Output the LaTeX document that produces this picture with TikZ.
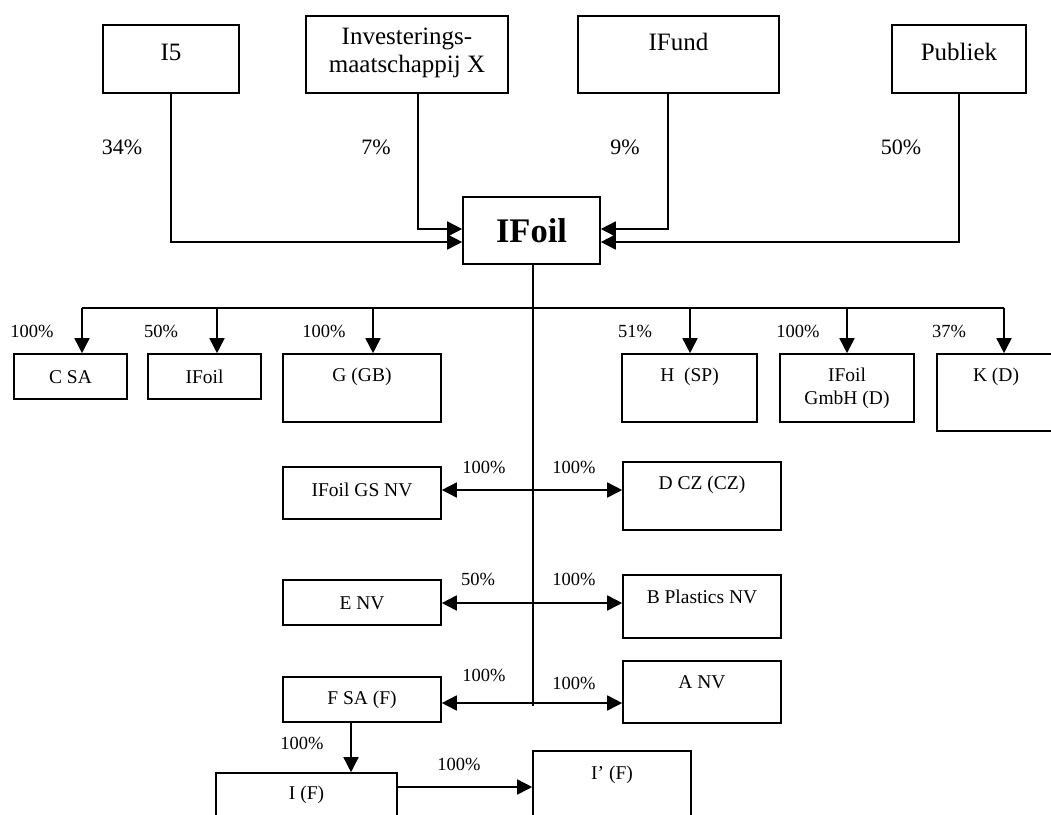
\documentclass[tikz,border=0pt]{standalone}
\usepackage{fontspec}
\setmainfont{Liberation Serif}
\usetikzlibrary{arrows.meta,calc}
\begin{document}
\begin{tikzpicture}[x=1pt,y=-1pt,
  box/.style={draw,line width=1.6pt,inner sep=0pt},
  btxt/.style={inner sep=0pt,align=center,font=\fontsize{19.5}{23}\selectfont},
  ttxt/.style={inner sep=0pt,align=center,font=\fontsize{25}{28}\selectfont},
  pct/.style={inner sep=0pt,font=\fontsize{18.5}{20}\selectfont},
  tpct/.style={inner sep=0pt,font=\fontsize{22}{24}\selectfont},
  conn/.style={line width=1.6pt},
  arr/.style={line width=1.6pt,-{Triangle[length=15pt,width=15pt]}},
  darr/.style={line width=1.6pt,{Triangle[length=15pt,width=15pt]}-{Triangle[length=15pt,width=15pt]}}]
\useasboundingbox (0,0) rectangle (1051,814);
\clip (0,0) rectangle (1051,814);
% top boxes
\node[box,minimum width=136pt,minimum height=68pt] (i5) at (171,59) {};
\node[ttxt] (i5t) at (171,52) {I5};
\node[box,minimum width=202pt,minimum height=77pt] (inv) at (407,54.5) {};
\node[ttxt] (invt) at (407,53) {Investerings-\\maatschappij X};
\node[box,minimum width=201pt,minimum height=77pt] (ifund) at (678.5,54.5) {};
\node[ttxt] (ifundt) at (678.5,42) {IFund};
\node[box,minimum width=134pt,minimum height=68pt] (publ) at (959,59) {};
\node[ttxt] (publt) at (959,52) {Publiek};
% main
\node[box,minimum width=137pt,minimum height=67pt,font=\fontsize{34.5}{36}\selectfont\bfseries] (ifoil) at (531.5,230.5) {IFoil};
% top percentages
\node[tpct] (p34) at (122,147) {34\%};
\node[tpct] (p7) at (376,147) {7\%};
\node[tpct] (p9) at (625,147) {9\%};
\node[tpct] (p50) at (901,147) {50\%};
% top arrows
\draw[arr] (i5.south) |- ($(ifoil.west)+(0,11.5)$);
\draw[arr] ($(inv.south)+(11,0)$) |- ($(ifoil.west)+(0,-1.5)$);
\draw[arr] ($(ifund.south)+(-10.5,0)$) |- ($(ifoil.east)+(0,-1.5)$);
\draw[arr] (publ.south) |- ($(ifoil.east)+(0,11.5)$);
% subsidiaries row
\node[box,minimum width=113pt,minimum height=45pt] (csa) at (70.5,376.5) {};
\node[btxt] (csat) at (70.5,377) {C SA};
\node[box,minimum width=113pt,minimum height=45pt] (if2) at (204.5,376.5) {};
\node[btxt] (if2t) at (204.5,377) {IFoil};
\node[box,minimum width=158pt,minimum height=68pt] (g) at (362,388) {};
\node[btxt] (gt) at (362,377) {G (GB)};
\node[box,minimum width=135pt,minimum height=68pt] (h) at (689.5,388) {};
\node[btxt] (ht) at (689.5,377) {H\ \ (SP)};
\node[box,minimum width=134pt,minimum height=68pt] (gmbh) at (847,388) {};
\node[btxt] (gmbht) at (847,388.5) {IFoil\\GmbH (D)};
\node[box,minimum width=118pt,minimum height=77pt] (k) at (996,392.5) {};
\node[btxt] (kt) at (996,377) {K (D)};
% trunk and bus
\draw[conn] ($(ifoil.south)+(1.5,0)$) -- ($(ifoil.south)+(1.5,441)$);
\draw[conn] ($(csa.north)+(11.5,-45)$) -- ($(k.north)+(8,-45)$);
\draw[arr] ($(csa.north)+(11.5,-45)$) -- ($(csa.north)+(11.5,0)$);
\draw[arr] ($(if2.north)+(12.5,-45)$) -- ($(if2.north)+(12.5,0)$);
\draw[arr] ($(g.north)+(11,-45)$) -- ($(g.north)+(11,0)$);
\draw[arr] ($(h.north)+(0.5,-45)$) -- ($(h.north)+(0.5,0)$);
\draw[arr] ($(gmbh.north)+(0,-45)$) -- (gmbh.north);
\draw[arr] ($(k.north)+(8,-45)$) -- ($(k.north)+(8,0)$);
\node[pct] (l1) at (32,331) {100\%};
\node[pct] (l2) at (161,331) {50\%};
\node[pct] (l3) at (324,331) {100\%};
\node[pct] (l4) at (635,331) {51\%};
\node[pct] (l5) at (798,331) {100\%};
\node[pct] (l6) at (949,331) {37\%};
% middle rows
\node[box,minimum width=158pt,minimum height=52pt] (gs) at (362,493) {};
\node[btxt] (gst) at (362,490) {IFoil GS NV};
\node[box,minimum width=158pt,minimum height=68pt] (dcz) at (702,496) {};
\node[btxt] (dczt) at (702,485) {D CZ (CZ)};
\node[box,minimum width=158pt,minimum height=45pt] (env) at (362,602.5) {};
\node[btxt] (envt) at (362,603) {E NV};
\node[box,minimum width=158pt,minimum height=63pt] (bpl) at (702,606.5) {};
\node[btxt] (bplt) at (702,597) {B Plastics NV};
\node[box,minimum width=158pt,minimum height=45pt] (fsa) at (362,699.5) {};
\node[btxt] (fsat) at (362,700) {F SA (F)};
\node[box,minimum width=158pt,minimum height=62pt] (anv) at (702,692) {};
\node[btxt] (anvt) at (702,682) {A NV};
\draw[darr] ($(gs.east)+(0,-3)$) -- ($(dcz.west)+(0,-6)$);
\draw[darr] ($(env.east)+(0,0.5)$) -- ($(bpl.west)+(0,-3.5)$);
\draw[darr] ($(fsa.east)+(0,3.5)$) -- ($(anv.west)+(0,11)$);
\node[pct] (m1) at (484,467.5) {100\%};
\node[pct] (m2) at (574,467.5) {100\%};
\node[pct] (m3) at (478,579) {50\%};
\node[pct] (m4) at (574,579) {100\%};
\node[pct] (m5) at (484,675.5) {100\%};
\node[pct] (m6) at (574,683) {100\%};
% bottom
\node[box,minimum width=181pt,minimum height=70pt] (i) at (306.5,808) {};
\node[btxt] (it) at (306.5,795) {I (F)};
\node[box,minimum width=158pt,minimum height=80pt] (ip) at (612,791) {};
\node[btxt] (ipt) at (612,775) {I’ (F)};
\draw[arr] ($(fsa.south)+(-11,0)$) -- ($(i.north)+(44.5,0)$);
\draw[arr] ($(i.east)+(0,-21)$) -- ($(ip.west)+(0,-4)$);
\node[pct] (b1) at (302,743.5) {100\%};
\node[pct] (b2) at (459,764) {100\%};
\end{tikzpicture}
\end{document}
